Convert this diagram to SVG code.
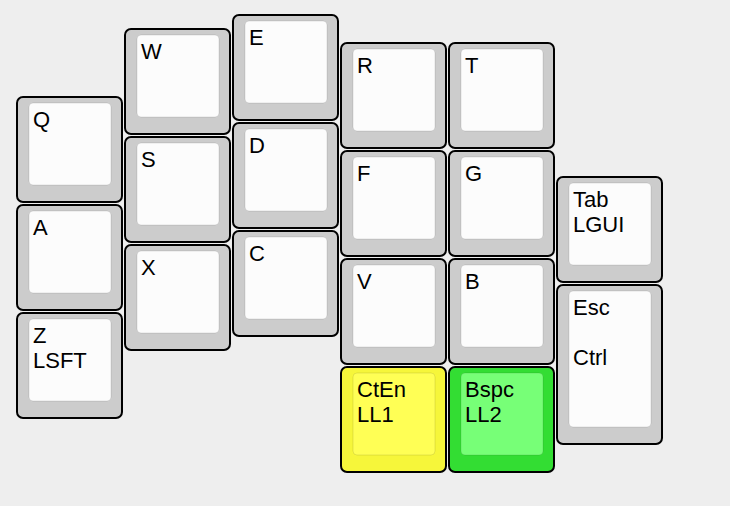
<svg xmlns="http://www.w3.org/2000/svg" width="730" height="506" viewBox="0 0 730 506">
<style>
.bg{fill:#eeeeee}
.o{fill:#cccccc;stroke:#000;stroke-width:2}
.i{fill:#fcfcfc;stroke:#000;stroke-opacity:0.1;stroke-width:1}
.oy{fill:#f6f63a}
.iy{fill:#ffff55}
.og{fill:#33dd33}
.ig{fill:#77ff77}
text{font-family:"Liberation Sans",Arial,Helvetica,sans-serif;font-size:22px;fill:#000}
</style>
<rect class="bg" x="0" y="0" width="730" height="506"/>
<g id="key-Q" transform="translate(16,96)"><rect class="o" x="1" y="1" width="105" height="105" rx="6"/><rect class="i" x="13" y="7" width="82" height="82" rx="4"/><text x="17" y="31">Q</text></g>
<g id="key-A" transform="translate(16,204)"><rect class="o" x="1" y="1" width="105" height="105" rx="6"/><rect class="i" x="13" y="7" width="82" height="82" rx="4"/><text x="17" y="31">A</text></g>
<g id="key-Z" transform="translate(16,312)"><rect class="o" x="1" y="1" width="105" height="105" rx="6"/><rect class="i" x="13" y="7" width="82" height="82" rx="4"/><text x="17" y="31">Z</text><text x="17" y="56">LSFT</text></g>
<g id="key-W" transform="translate(124,28)"><rect class="o" x="1" y="1" width="105" height="105" rx="6"/><rect class="i" x="13" y="7" width="82" height="82" rx="4"/><text x="17" y="31">W</text></g>
<g id="key-S" transform="translate(124,136)"><rect class="o" x="1" y="1" width="105" height="105" rx="6"/><rect class="i" x="13" y="7" width="82" height="82" rx="4"/><text x="17" y="31">S</text></g>
<g id="key-X" transform="translate(124,244)"><rect class="o" x="1" y="1" width="105" height="105" rx="6"/><rect class="i" x="13" y="7" width="82" height="82" rx="4"/><text x="17" y="31">X</text></g>
<g id="key-E" transform="translate(232,14)"><rect class="o" x="1" y="1" width="105" height="105" rx="6"/><rect class="i" x="13" y="7" width="82" height="82" rx="4"/><text x="17" y="31">E</text></g>
<g id="key-D" transform="translate(232,122)"><rect class="o" x="1" y="1" width="105" height="105" rx="6"/><rect class="i" x="13" y="7" width="82" height="82" rx="4"/><text x="17" y="31">D</text></g>
<g id="key-C" transform="translate(232,230)"><rect class="o" x="1" y="1" width="105" height="105" rx="6"/><rect class="i" x="13" y="7" width="82" height="82" rx="4"/><text x="17" y="31">C</text></g>
<g id="key-R" transform="translate(340,42)"><rect class="o" x="1" y="1" width="105" height="105" rx="6"/><rect class="i" x="13" y="7" width="82" height="82" rx="4"/><text x="17" y="31">R</text></g>
<g id="key-F" transform="translate(340,150)"><rect class="o" x="1" y="1" width="105" height="105" rx="6"/><rect class="i" x="13" y="7" width="82" height="82" rx="4"/><text x="17" y="31">F</text></g>
<g id="key-V" transform="translate(340,258)"><rect class="o" x="1" y="1" width="105" height="105" rx="6"/><rect class="i" x="13" y="7" width="82" height="82" rx="4"/><text x="17" y="31">V</text></g>
<g id="key-CtEn" transform="translate(340,366)"><rect class="o oy" x="1" y="1" width="105" height="105" rx="6"/><rect class="i iy" x="13" y="7" width="82" height="82" rx="4"/><text x="17" y="31">CtEn</text><text x="17" y="56">LL1</text></g>
<g id="key-T" transform="translate(448,42)"><rect class="o" x="1" y="1" width="105" height="105" rx="6"/><rect class="i" x="13" y="7" width="82" height="82" rx="4"/><text x="17" y="31">T</text></g>
<g id="key-G" transform="translate(448,150)"><rect class="o" x="1" y="1" width="105" height="105" rx="6"/><rect class="i" x="13" y="7" width="82" height="82" rx="4"/><text x="17" y="31">G</text></g>
<g id="key-B" transform="translate(448,258)"><rect class="o" x="1" y="1" width="105" height="105" rx="6"/><rect class="i" x="13" y="7" width="82" height="82" rx="4"/><text x="17" y="31">B</text></g>
<g id="key-Bspc" transform="translate(448,366)"><rect class="o og" x="1" y="1" width="105" height="105" rx="6"/><rect class="i ig" x="13" y="7" width="82" height="82" rx="4"/><text x="17" y="31">Bspc</text><text x="17" y="56">LL2</text></g>
<g id="key-Tab" transform="translate(556,176)"><rect class="o" x="1" y="1" width="105" height="105" rx="6"/><rect class="i" x="13" y="7" width="82" height="82" rx="4"/><text x="17" y="31">Tab</text><text x="17" y="56">LGUI</text></g>
<g id="key-Esc" transform="translate(556,284)"><rect class="o" x="1" y="1" width="105" height="159" rx="6"/><rect class="i" x="13" y="7" width="82" height="136" rx="4"/><text x="17" y="31">Esc</text><text x="17" y="81">Ctrl</text></g>
</svg>
